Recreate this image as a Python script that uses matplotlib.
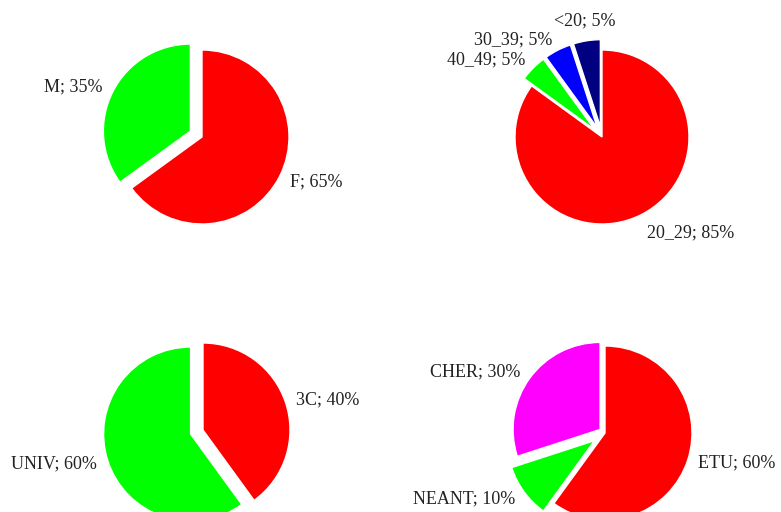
import math
import matplotlib
matplotlib.use("Agg")
import matplotlib.pyplot as plt

plt.rcParams['font.family'] = ['Liberation Serif', 'DejaVu Serif']

# sexe
sexe_labels = ['F', 'M']
sexe_values = [65, 35]
# age
age_labels = ['20_29', '40_49', '30_39', '<20']
age_values = [85, 5, 5, 5]
# formation
form_labels = ['3C', 'UNIV']
form_values = [40, 60]
# statut
statut_labels = ['ETU', 'NEANT', 'CHER']
statut_values = [60, 10, 30]

W, H = 781, 512
R = 87.0  # pie radius in pixels
BOX = 150.0

fig = plt.figure(figsize=(W / 100, H / 100), dpi=100)


def draw_pie(cx, cy, labels, values, colors, explode):
    '''cx, cy: center of the pie in pixels (y from top)'''
    ax = fig.add_axes([(cx - BOX) / W, (H - cy - BOX) / H, 2 * BOX / W, 2 * BOX / H])
    wedges, _ = ax.pie(values, colors=colors, explode=explode, startangle=90,
                       counterclock=False, radius=1,
                       wedgeprops=dict(edgecolor='white', linewidth=1))
    lim = BOX / R
    ax.set_xlim(-lim, lim)
    ax.set_ylim(-lim, lim)
    ax.axis('off')

    # Excel-like outside-end labels
    for w, lab, val in zip(wedges, labels, values):
        mid = math.radians((w.theta1 + w.theta2) / 2)
        c, s = math.cos(mid), math.sin(mid)
        x0, y0 = w.center
        d = 1.13
        x, y = x0 + d * c, y0 + d * s
        if abs(c) < 0.3:
            ha = 'center'
            va = 'bottom' if s > 0 else 'top'
        else:
            ha = 'left' if c > 0 else 'right'
            va = 'top' if s < -0.8 else 'center'
        ax.text(x, y, '{}; {}%'.format(lab, val), ha=ha, va=va,
                fontsize=13, color='#222222', clip_on=False)


draw_pie(202, 137, sexe_labels, sexe_values, ['#ff0000', '#00ff00'], [0, 0.15])
draw_pie(602, 137, age_labels, age_values,
         ['#ff0000', '#00ff00', '#0000ff', '#000080'], [0, 0.12, 0.12, 0.12])
draw_pie(203, 430, form_labels, form_values, ['#ff0000', '#00ff00'], [0, 0.15])
draw_pie(605, 433, statut_labels, statut_values,
         ['#ff0000', '#00ff00', '#ff00ff'], [0, 0.15, 0.07])

fig.savefig('out.png', dpi=100)
